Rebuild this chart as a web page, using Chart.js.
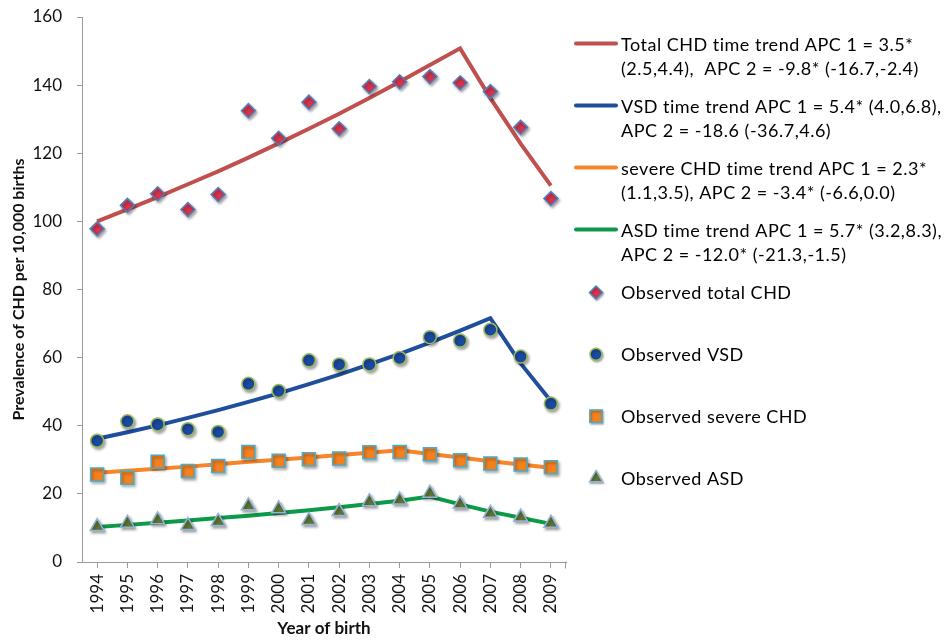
<!DOCTYPE html>
<html>
<head>
<meta charset="utf-8">
<script src="https://cdn.jsdelivr.net/npm/chart.js@4.4.1/dist/chart.umd.min.js"></script>
<style>
  html, body { margin: 0; padding: 0; background: #fff; }
  #wrap { width: 949px; height: 641px; }
</style>
</head>
<body>
<div id="wrap"><canvas id="chd"></canvas></div>
<script>
const years = ['1994','1995','1996','1997','1998','1999','2000','2001','2002','2003','2004','2005','2006','2007','2008','2009'];

// observed prevalence per 10,000 births
const obsTotal  = [97.8, 104.7, 108.1, 103.5, 107.9, 132.5, 124.4, 135.0, 127.2, 139.6, 141.0, 142.5, 140.7, 138.1, 127.6, 106.7];
const obsVsd    = [35.6, 41.3, 40.4, 39.0, 38.2, 52.3, 50.2, 59.2, 58.0, 58.0, 59.9, 66.0, 65.0, 68.2, 60.3, 46.5];
const obsSevere = [25.7, 24.7, 29.4, 26.7, 28.2, 32.3, 29.7, 30.2, 30.4, 32.2, 32.3, 31.6, 29.9, 28.9, 28.6, 27.8];
const obsAsd    = [10.4, 11.4, 12.4, 10.7, 11.9, 16.5, 15.6, 12.2, 14.8, 17.7, 18.2, 20.2, 17.0, 14.3, 13.2, 11.4];

// joinpoint trend lines
const trendTotal  = [100.0, 103.5, 107.1, 110.9, 114.7, 118.7, 122.9, 127.2, 131.6, 136.2, 141.0, 145.9, 150.8, 136.2, 122.8, 110.5];
const trendVsd    = [36.2, 38.1, 40.1, 42.3, 44.6, 47.0, 49.5, 52.2, 55.0, 58.0, 61.1, 64.4, 67.9, 71.6, 58.3, 47.3];
const trendSevere = [26.2, 26.8, 27.4, 28.0, 28.7, 29.4, 30.0, 30.7, 31.4, 32.1, 32.8, 31.7, 30.7, 29.6, 28.6, 27.7];
const trendAsd    = [10.3, 10.9, 11.5, 12.2, 12.9, 13.6, 14.4, 15.2, 16.1, 17.0, 18.0, 19.2, 16.9, 14.8, 13.0, 11.2];

const trendLabels = [
  ['Total CHD time trend APC 1 = 3.5*', '(2.5,4.4),  APC 2 = -9.8* (-16.7,-2.4)'],
  ['VSD time trend APC 1 = 5.4* (4.0,6.8),', 'APC 2 = -18.6 (-36.7,4.6)'],
  ['severe CHD time trend APC 1 = 2.3*', '(1.1,3.5), APC 2 = -3.4* (-6.6,0.0)'],
  ['ASD time trend APC 1 = 5.7* (3.2,8.3),', 'APC 2 = -12.0* (-21.3,-1.5)']
];
const obsLabels = ['Observed total CHD', 'Observed VSD', 'Observed severe CHD', 'Observed ASD'];

const FONT = 'Lato, "Open Sans", sans-serif';
const AXIS_GREY = '#9a9a9a';

function trend(label, data, color) {
  return { type: 'line', label, data, borderColor: color, borderWidth: 4, pointRadius: 0,
           tension: 0, fill: false, order: 2, kind: 'trend' };
}
function observed(label, data, style, radius, fill, edge, edgeWidth) {
  return { type: 'line', label, data, showLine: false, pointStyle: style, pointRadius: radius,
           pointBackgroundColor: fill, pointBorderColor: edge, pointBorderWidth: edgeWidth,
           backgroundColor: fill, borderColor: edge, order: 1, kind: 'obs' };
}

// soft drop shadow on the markers, like the original
const markerShadow = {
  id: 'markerShadow',
  beforeDatasetDraw(chart, args) {
    if (args.meta._dataset.kind !== 'obs') return;
    const ctx = chart.ctx;
    ctx.save();
    ctx.shadowColor = 'rgba(0,0,0,0.35)';
    ctx.shadowBlur = 3;
    ctx.shadowOffsetX = 1.5;
    ctx.shadowOffsetY = 2;
  },
  afterDatasetDraw(chart, args) {
    if (args.meta._dataset.kind !== 'obs') return;
    chart.ctx.restore();
  }
};

// legend at the right, with two-line trend entries
const sideLegend = {
  id: 'sideLegend',
  afterDraw(chart) {
    const ctx = chart.ctx;
    const ds = chart.data.datasets;
    const trends = ds.filter(d => d.kind === 'trend');
    const obs = ds.filter(d => d.kind === 'obs');
    ctx.save();
    ctx.font = '18px ' + FONT;
    ctx.letterSpacing = '0.5px';
    ctx.fillStyle = '#000';
    ctx.textBaseline = 'middle';
    ctx.textAlign = 'left';

    trends.forEach((d, i) => {
      const y = 45 + i * 62;
      ctx.beginPath();
      ctx.strokeStyle = d.borderColor;
      ctx.lineWidth = 4;
      ctx.lineCap = 'round';
      ctx.moveTo(576, y - 1.5);
      ctx.lineTo(616, y - 1.5);
      ctx.stroke();
      trendLabels[i].forEach((t, j) => ctx.fillText(t, 621, y + j * 24.5));
    });

    obs.forEach((d, i) => {
      const y = 292.5 + i * 61.8;
      ctx.save();
      ctx.shadowColor = 'rgba(0,0,0,0.3)';
      ctx.shadowBlur = 2;
      ctx.shadowOffsetX = 1;
      ctx.shadowOffsetY = 1.5;
      ctx.fillStyle = d.pointBackgroundColor;
      ctx.strokeStyle = d.pointBorderColor;
      ctx.lineWidth = d.pointBorderWidth;
      Chart.helpers.drawPoint(ctx, { pointStyle: d.pointStyle, radius: d.pointRadius - 0.5,
        rotation: 0, borderWidth: d.pointBorderWidth }, 596, y);
      ctx.restore();
      ctx.fillText(obsLabels[i], 621, y + 1);
    });

    // closing tick at the right end of the x axis
    const a = chart.chartArea;
    ctx.beginPath();
    ctx.strokeStyle = AXIS_GREY;
    ctx.lineWidth = 1;
    ctx.moveTo(a.right - 0.5, a.bottom);
    ctx.lineTo(a.right - 0.5, a.bottom + 6);
    ctx.stroke();
    ctx.restore();
  }
};

new Chart(document.getElementById('chd'), {
  data: {
    labels: years,
    datasets: [
      observed(obsLabels[0], obsTotal, 'rectRot', 7, '#d8344b', '#4f81bd', 1.5),
      observed(obsLabels[1], obsVsd, 'circle', 6.5, '#1b49a0', '#9bbb59', 1.5),
      observed(obsLabels[2], obsSevere, 'rect', 9.2, '#f4801f', '#4bacc6', 1.5),
      observed(obsLabels[3], obsAsd, 'triangle', 8, '#5e7633', '#95b3d7', 1.5),
      trend(trendLabels[0].join(' '), trendTotal, '#c0504d'),
      trend(trendLabels[1].join(' '), trendVsd, '#1f4e9c'),
      trend(trendLabels[2].join(' '), trendSevere, '#f7862b'),
      trend(trendLabels[3].join(' '), trendAsd, '#0c9a48')
    ]
  },
  options: {
    responsive: true,
    maintainAspectRatio: false,
    animation: false,
    layout: { padding: { left: 9, top: 17, right: 383, bottom: 2 } },
    plugins: { legend: { display: false }, tooltip: { enabled: false } },
    scales: {
      x: {
        type: 'category',
        offset: true,
        grid: { display: true, drawOnChartArea: false, offset: false, color: AXIS_GREY, tickLength: 6 },
        border: { color: AXIS_GREY },
        ticks: { color: '#111', font: { family: FONT, size: 17 }, minRotation: 90, maxRotation: 90, padding: 6, autoSkip: false },
        title: { display: true, text: 'Year of birth', color: '#111', font: { family: FONT, size: 17, weight: 'bold' }, padding: 0 },
        afterFit(scale) { scale.height = 77; }
      },
      y: {
        min: 0, max: 160,
        grid: { display: true, drawOnChartArea: false, color: AXIS_GREY, tickLength: 5 },
        border: { color: AXIS_GREY },
        ticks: { stepSize: 20, color: '#111', font: { family: FONT, size: 17 }, padding: 15 },
        title: { display: true, text: 'Prevalence of CHD per 10,000 births', color: '#111', font: { family: FONT, size: 16, weight: 'bold' }, padding: 0 },
        afterFit(scale) {
          scale.width = 73;
          // tick padding would otherwise push the plot top down
          scale.paddingTop = 10;
          scale.paddingBottom = 10;
        }
      }
    }
  },
  plugins: [markerShadow, sideLegend]
});
</script>
</body>
</html>
